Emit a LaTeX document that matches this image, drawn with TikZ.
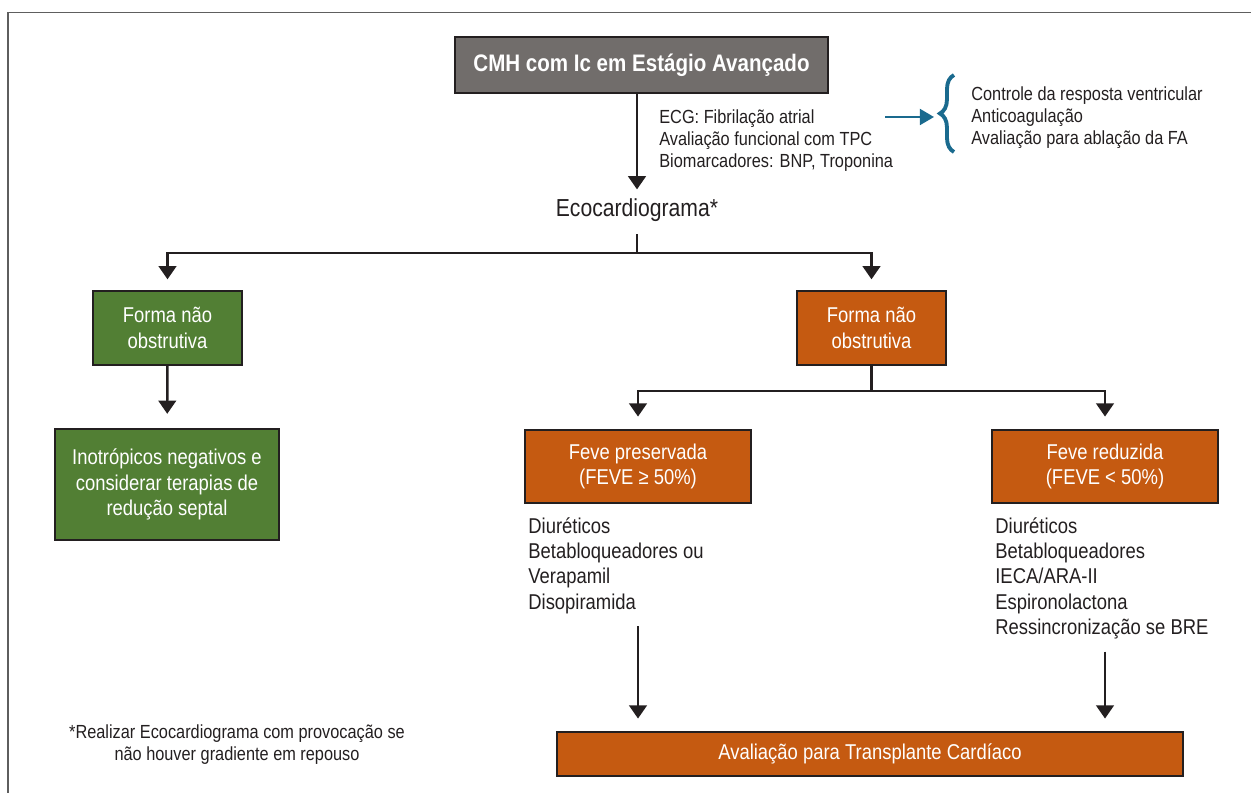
\documentclass[tikz,border=0pt]{standalone}
\usepackage{fontspec}
\setmainfont{Liberation Sans}[FakeStretch=0.86]
\usetikzlibrary{arrows.meta,decorations.pathreplacing}

\definecolor{boxgreen}{HTML}{527F34}
\definecolor{boxorange}{HTML}{C55A11}
\definecolor{boxgray}{HTML}{716D6B}
\definecolor{linedark}{HTML}{231F20}
\definecolor{braceblue}{HTML}{1A6A8E}
\definecolor{framegray}{HTML}{5E5E5E}

\newcommand{\flowfont}{\fontsize{12.2}{14.4}\selectfont}
\newcommand{\notefont}{\fontsize{10.8}{12.6}\selectfont}

\tikzset{
  flowbox/.style={draw=linedark, line width=1.3pt, text=white, align=center,
    inner sep=0pt, font=\flowfont},
  listtext/.style={align=left, inner sep=0pt, font=\flowfont, text=linedark},
  flowline/.style={draw=linedark, line width=1.4pt},
  flowarrow/.style={flowline, -{Triangle[width=10pt,length=7.5pt]}},
}

\begin{document}
\begin{tikzpicture}[x=0.02cm, y=-0.02cm]
\useasboundingbox (0,0) rectangle (1251,793);
%frame
\draw[framegray, line width=1.1pt] (8,793) -- (8,12.5) -- (1251,12.5);

%top of the chart
\node[flowbox, fill=boxgray, minimum width=7.46cm, minimum height=1.12cm,
  font=\fontsize{13.6}{16}\selectfont\bfseries] (top) at (641.5,65)
  {CMH com Ic em Estágio Avançado};
\node[font=\fontsize{14}{16}\selectfont, text=linedark, inner sep=2pt] (echo) at (637,210) {Ecocardiograma*};
\draw[flowarrow, shorten >=3pt] (top.south -| echo) -- (echo);

\node[listtext, font=\notefont, anchor=north west] (ecg) at (659,109)
  {ECG: Fibrilação atrial\\Avaliação funcional com TPC\\Biomarcadores: BNP, Troponina};
\node[listtext, font=\notefont, anchor=north west] (fa) at (971,86)
  {Controle da resposta ventricular\\Anticoagulação\\Avaliação para ablação da FA};
\coordinate (bluestart) at (885,117);
\coordinate (bracetip) at (934,117);
\draw[braceblue, line width=1.4pt, -{Triangle[width=9pt,length=8pt]}] (bluestart) -- (bracetip);
\draw[braceblue, line width=2.2pt, decorate, decoration={brace, amplitude=8pt}]
  (954,152) -- (954,75);

%first split
\coordinate (split1) at (637,253);
\node[flowbox, fill=boxgreen, minimum width=2.98cm, minimum height=1.48cm] (nonobs) at (167.5,328)
  {Forma não\\obstrutiva};
\node[flowbox, fill=boxorange, minimum width=2.98cm, minimum height=1.48cm] (obs) at (871.5,328)
  {Forma não\\obstrutiva};
\draw[flowline, shorten <=5pt] (echo) -- (split1);
\draw[flowarrow, shorten >=6pt] (split1) -| (nonobs.north);
\draw[flowarrow, shorten >=6pt] (split1) -| (obs.north);

%left branch
\node[flowbox, fill=boxgreen, minimum width=4.48cm, minimum height=2.22cm] (inotrop) at (167,484.5)
  {Inotrópicos negativos e\\considerar terapias de\\redução septal};
\draw[flowarrow, shorten >=8pt] (nonobs) -- (inotrop);

%right branch
\coordinate (split2) at (871.5,391);
\node[flowbox, fill=boxorange, minimum width=4.52cm, minimum height=1.46cm] (fevep) at (638,466.5)
  {Feve preservada\\(FEVE ≥ 50\%)};
\node[flowbox, fill=boxorange, minimum width=4.52cm, minimum height=1.46cm] (fever) at (1105,466.5)
  {Feve reduzida\\(FEVE < 50\%)};
\draw[flowline] (obs) -- (split2);
\draw[flowarrow, shorten >=7pt] (split2) -| (fevep.north);
\draw[flowarrow, shorten >=7pt] (split2) -| (fever.north);

\node[listtext, anchor=north west] (presmeds) at (528,517)
  {Diuréticos\\Betabloqueadores ou\\Verapamil\\Disopiramida};
\node[listtext, anchor=north west] (redmeds) at (995,517)
  {Diuréticos\\Betabloqueadores\\IECA/ARA-II\\Espironolactona\\Ressincronização se BRE};

%bottom
\node[flowbox, fill=boxorange, minimum width=12.52cm, minimum height=0.88cm] (transpl) at (870,754)
  {Avaliação para Transplante Cardíaco};
\draw[flowarrow, shorten <=7pt, shorten >=7pt] (fevep |- presmeds.south) -- (fevep |- transpl.north);
\draw[flowarrow, shorten <=7pt, shorten >=7pt] (fever |- redmeds.south) -- (fever |- transpl.north);

\node[font=\notefont, text=linedark, align=center, inner sep=0pt] (note) at (237,745)
  {*Realizar Ecocardiograma com provocação se\\não houver gradiente em repouso};
\end{tikzpicture}
\end{document}
